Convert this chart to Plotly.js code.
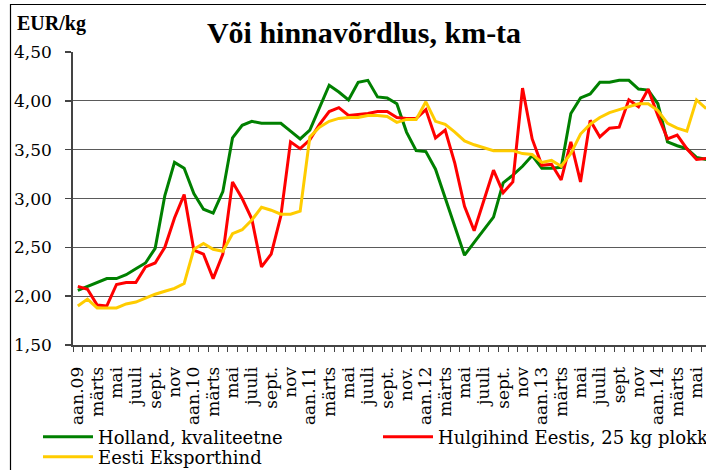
<!DOCTYPE html>
<html><head><meta charset="utf-8">
<script src="https://cdn.plot.ly/plotly-3.0.1.min.js"></script>
<style>html,body{margin:0;padding:0;overflow:hidden;background:#fff}</style>
</head><body><div id="chart" style="width:706px;height:470px"></div>
<script>
const months = [
 '2009-01','2009-02','2009-03','2009-04','2009-05','2009-06','2009-07','2009-08','2009-09','2009-10','2009-11','2009-12',
 '2010-01','2010-02','2010-03','2010-04','2010-05','2010-06','2010-07','2010-08','2010-09','2010-10','2010-11','2010-12',
 '2011-01','2011-02','2011-03','2011-04','2011-05','2011-06','2011-07','2011-08','2011-09','2011-10','2011-11','2011-12',
 '2012-01','2012-02','2012-03','2012-04','2012-05','2012-06','2012-07','2012-08','2012-09','2012-10','2012-11','2012-12',
 '2013-01','2013-02','2013-03','2013-04','2013-05','2013-06','2013-07','2013-08','2013-09','2013-10','2013-11','2013-12',
 '2014-01','2014-02','2014-03','2014-04','2014-05','2014-06'];
const tickLabels = ['aan.09','märts','mai','juuli','sept.','nov',
 'aan.10','märts','mai','juuli','sept.','nov',
 'aan.11','märts','mai','juuli','sept.','nov.',
 'aan.12','märts','mai','juuli','sept.','nov',
 'aan.13','märts','mai','juuli','sept','nov',
 'aan.14','märts','mai'];
const yTicks = [1.5, 2.0, 2.5, 3.0, 3.5, 4.0, 4.5];
const yTickLabels = ['1,50','2,00','2,50','3,00','3,50','4,00','4,50'];
const holland = [2.06,2.10,2.14,2.18,2.18,2.22,2.28,2.34,2.49,3.03,3.37,3.31,
 3.05,2.89,2.85,3.07,3.62,3.75,3.79,3.77,3.77,3.77,3.69,3.61,
 3.70,3.94,4.16,4.09,4.01,4.19,4.21,4.04,4.03,3.97,3.68,3.49,
 3.48,3.30,3.00,2.70,2.42,2.55,2.68,2.81,3.16,3.24,3.33,3.44,
 3.31,3.31,3.32,3.87,4.03,4.07,4.19,4.19,4.21,4.21,4.12,4.11,
 3.97,3.58,3.54,3.51,3.42,3.40];
const hulgihind = [2.10,2.07,1.91,1.90,2.12,2.14,2.14,2.30,2.34,2.50,2.80,3.04,
 2.47,2.43,2.18,2.43,3.17,3.00,2.79,2.30,2.43,2.82,3.58,3.51,
 3.60,3.76,3.89,3.93,3.85,3.86,3.87,3.89,3.89,3.83,3.82,3.82,
 3.91,3.62,3.70,3.36,2.92,2.67,2.98,3.29,3.06,3.17,4.13,3.61,
 3.34,3.35,3.19,3.58,3.17,3.80,3.63,3.72,3.73,4.01,3.94,4.12,
 3.85,3.61,3.65,3.51,3.40,3.41];
const eksport = [1.90,1.97,1.88,1.88,1.88,1.92,1.94,1.98,2.02,2.05,2.08,2.13,
 2.48,2.54,2.48,2.46,2.64,2.68,2.78,2.91,2.88,2.84,2.84,2.87,
 3.63,3.73,3.79,3.82,3.83,3.83,3.85,3.85,3.84,3.78,3.81,3.81,
 3.99,3.79,3.76,3.68,3.59,3.55,3.52,3.49,3.49,3.49,3.46,3.45,
 3.37,3.39,3.33,3.46,3.66,3.76,3.83,3.88,3.91,3.94,3.97,3.97,
 3.90,3.77,3.72,3.69,4.01,3.92];
const seriesNames = ['Holland, kvaliteetne','Hulgihind Eestis, 25 kg plokk','Eesti Eksporthind'];
const seriesColors = ['#008000','#ff0000','#ffcc00'];

const W = 706, H = 470, L = 73, R = 0, T = 52, B = 125;
const pw = W - L - R, ph = H - T - B;
const px = v => (v - L) / pw;          // pixel x -> paper
const py = v => (H - B - v) / ph;      // pixel y -> paper
const monthPx = 9.667;
const xIdx = months.map((m, i) => i);
const tickVals = tickLabels.map((t, k) => 2 * k);

const tickFont = {family: 'DejaVu Serif', size: 17, color: '#000'};
const legFont = {family: 'DejaVu Serif', size: 18, color: '#000'};

const data = [holland, hulgihind, eksport].map((ys, k) => ({
  x: xIdx, y: ys, type: 'scatter', mode: 'lines', name: seriesNames[k],
  line: {color: seriesColors[k], width: 3},
  legend: k === 0 ? 'legend' : (k === 1 ? 'legend2' : 'legend3')
}));

const legBase = {bgcolor: 'rgba(0,0,0,0)', borderwidth: 0, font: legFont,
  xanchor: 'left', yanchor: 'middle', itemwidth: 50, orientation: 'v'};

const yLabelAnns = yTicks.map((v, k) => ({
  text: yTickLabels[k], xref: 'paper', yref: 'y', x: px(54), y: v,
  xanchor: 'right', yanchor: 'middle', showarrow: false, font: tickFont
}));

const layout = {
  width: W, height: H,
  margin: {l: L, r: R, t: T, b: B, autoexpand: false},
  paper_bgcolor: '#fff', plot_bgcolor: '#fff',
  showlegend: true,
  title: {text: 'Või hinnavõrdlus, km-ta', font: {family: 'Liberation Serif', size: 30, color: '#000', weight: 'bold'},
    xref: 'container', yref: 'container', x: 364 / W, xanchor: 'center', y: 1 - 32 / H, yanchor: 'middle'},
  xaxis: {
    type: 'linear', range: [-0.5, -0.5 + pw / monthPx],
    tickmode: 'array', tickvals: tickVals, ticktext: tickLabels,
    tickangle: -90, ticks: '', tickfont: tickFont, ticklabelstandoff: 13,
    ticklabeloverflow: 'allow',
    showgrid: false, zeroline: false, showline: true, linecolor: '#444', linewidth: 2,
    minor: {ticks: 'outside', tick0: -0.5, dtick: 1, ticklen: 5, tickcolor: '#444', tickwidth: 1, showgrid: false},
    fixedrange: true
  },
  yaxis: {
    range: [1.5, 4.5], tickmode: 'array', tickvals: yTicks, showticklabels: false,
    ticks: 'outside', ticklen: 6, tickcolor: '#444', tickwidth: 1.5,
    showgrid: true, gridcolor: '#5a5a5a', gridwidth: 1, zeroline: false,
    showline: true, linecolor: '#444', linewidth: 2, fixedrange: true
  },
  legend: Object.assign({}, legBase, {x: px(38), y: py(437)}),
  legend2: Object.assign({}, legBase, {x: px(378), y: py(437)}),
  legend3: Object.assign({}, legBase, {x: px(38), y: py(457)}),
  annotations: [{
    text: 'EUR/kg', xref: 'paper', yref: 'paper', x: px(15), y: py(23), xanchor: 'left', yanchor: 'middle',
    showarrow: false, font: {family: 'Liberation Serif', size: 20, color: '#000', weight: 'bold'}
  }].concat(yLabelAnns),
  shapes: [{
    type: 'rect', xref: 'paper', yref: 'paper', x0: px(10.5), x1: px(760), y0: py(520), y1: py(4.5),
    line: {color: '#000', width: 1.2}, fillcolor: 'rgba(0,0,0,0)', layer: 'below'
  }]
};

Plotly.newPlot('chart', data, layout, {displayModeBar: false, staticPlot: true});
</script></body></html>
